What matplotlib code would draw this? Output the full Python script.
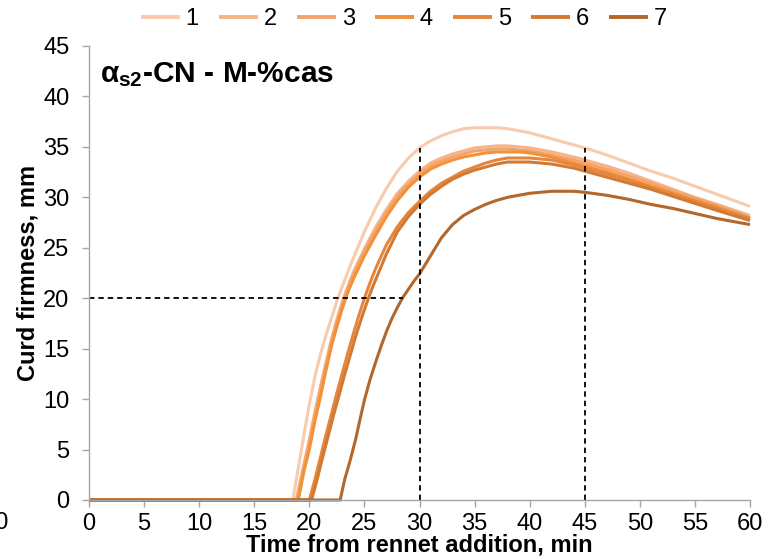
import matplotlib
matplotlib.use("Agg")
import matplotlib.pyplot as plt

plt.rcParams['font.family'] = ['Liberation Sans', 'DejaVu Sans']
plt.rcParams['mathtext.fontset'] = 'custom'
plt.rcParams['mathtext.rm'] = 'Liberation Sans:bold'
plt.rcParams['mathtext.it'] = 'Liberation Sans:bold'
plt.rcParams['mathtext.bf'] = 'Liberation Sans:bold'

labels = ["1", "2", "3", "4", "5", "6", "7"]
colors = ["#F8CBAD", "#F5B48A", "#F4A469", "#F39139", "#E5863C", "#D27A33", "#B4672B"]

t1 = [0, 18.5, 19, 19.5, 20, 20.5, 21, 21.5, 22, 22.5, 23, 24, 25, 26, 27, 28, 29, 30, 31, 32, 33, 34, 35, 36, 37, 38, 39, 40, 42, 44, 45, 47, 49, 51, 53, 55, 57, 60]
y1 = [0, 0, 3.2, 6.4, 9.5, 12.2, 14.4, 16.3, 18.0, 19.7, 21.2, 24.0, 26.6, 28.9, 30.9, 32.6, 33.9, 34.9, 35.6, 36.1, 36.5, 36.8, 36.9, 36.9, 36.9, 36.8, 36.6, 36.4, 35.8, 35.2, 34.9, 34.2, 33.4, 32.6, 31.9, 31.1, 30.3, 29.1]

t2 = [0, 18.8, 19.5, 20, 20.5, 21, 21.5, 22, 22.5, 23, 23.5, 24, 25, 26, 27, 28, 29, 30, 31, 32, 33, 34, 35, 36, 37, 38, 39, 40, 42, 44, 45, 47, 49, 51, 53, 55, 57, 60]
y2 = [0, 0, 3.5, 6.0, 8.7, 11.2, 13.6, 15.9, 17.9, 19.7, 21.2, 22.6, 24.9, 27.0, 28.8, 30.4, 31.6, 32.6, 33.4, 33.9, 34.3, 34.6, 34.9, 35.0, 35.1, 35.1, 35.0, 34.9, 34.5, 34.0, 33.7, 33.1, 32.4, 31.6, 30.8, 30.0, 29.3, 28.2]

t3 = [0, 18.9, 19.5, 20, 20.5, 21, 21.5, 22, 22.5, 23, 23.5, 24, 25, 26, 27, 28, 29, 30, 31, 32, 33, 34, 35, 36, 37, 38, 39, 40, 42, 44, 45, 47, 49, 51, 53, 55, 57, 60]
y3 = [0, 0, 3.2, 5.6, 8.3, 10.8, 13.3, 15.6, 17.6, 19.4, 20.9, 22.3, 24.6, 26.6, 28.5, 30.1, 31.3, 32.3, 33.1, 33.6, 34.0, 34.3, 34.6, 34.7, 34.8, 34.8, 34.7, 34.6, 34.2, 33.7, 33.4, 32.8, 32.1, 31.4, 30.6, 29.9, 29.2, 28.0]

t4 = [0, 19.0, 19.5, 20, 20.5, 21, 21.5, 22, 22.5, 23, 23.5, 24, 25, 26, 27, 28, 29, 30, 31, 32, 33, 34, 35, 36, 37, 38, 39, 40, 42, 44, 45, 47, 49, 51, 53, 55, 57, 60]
y4 = [0, 0, 2.8, 5.0, 7.8, 10.2, 12.8, 15.2, 17.2, 19.0, 20.6, 21.9, 24.2, 26.2, 28.1, 29.7, 31.0, 32.0, 32.8, 33.3, 33.7, 34.0, 34.2, 34.4, 34.5, 34.5, 34.5, 34.4, 34.0, 33.4, 33.1, 32.5, 31.8, 31.1, 30.4, 29.7, 29.0, 27.9]

t5 = [0, 20.0, 20.5, 21, 21.5, 22, 22.5, 23, 23.5, 24, 24.5, 25, 25.5, 26, 27, 28, 29, 30, 31, 32, 33, 34, 35, 36, 37, 38, 39, 40, 42, 44, 45, 47, 49, 51, 53, 55, 57, 60]
y5 = [0, 0, 2.0, 4.2, 6.4, 8.5, 10.6, 12.6, 14.6, 16.5, 18.3, 20.0, 21.5, 22.9, 25.3, 27.1, 28.5, 29.6, 30.6, 31.4, 32.0, 32.6, 33.0, 33.4, 33.7, 33.9, 33.9, 33.9, 33.7, 33.2, 32.9, 32.3, 31.7, 31.0, 30.3, 29.6, 28.9, 27.9]

t6 = [0, 20.2, 20.7, 21.2, 21.7, 22.2, 22.7, 23.2, 23.7, 24.2, 24.7, 25.2, 25.7, 26.2, 27, 28, 29, 30, 31, 32, 33, 34, 35, 36, 37, 38, 39, 40, 42, 44, 45, 47, 49, 51, 53, 55, 57, 60]
y6 = [0, 0, 2.0, 4.2, 6.3, 8.4, 10.4, 12.4, 14.3, 16.2, 17.9, 19.5, 21.0, 22.3, 24.4, 26.6, 28.1, 29.3, 30.3, 31.1, 31.8, 32.3, 32.7, 33.0, 33.3, 33.5, 33.5, 33.5, 33.3, 32.9, 32.6, 32.0, 31.4, 30.8, 30.1, 29.4, 28.7, 27.7]

t7 = [0, 22.8, 23.2, 23.7, 24.2, 24.6, 25.0, 25.5, 26, 26.5, 27, 27.5, 28, 28.5, 29, 29.5, 30, 31, 32, 33, 34, 35, 36, 37, 38, 39, 40, 41, 42, 43, 44, 45, 47, 49, 51, 53, 55, 57, 60]
y7 = [0, 0, 2.0, 3.9, 6.0, 8.0, 9.9, 11.9, 13.6, 15.2, 16.7, 18.0, 19.1, 20.1, 20.9, 21.7, 22.4, 24.2, 26.0, 27.3, 28.2, 28.8, 29.3, 29.7, 30.0, 30.2, 30.4, 30.5, 30.6, 30.6, 30.6, 30.5, 30.2, 29.8, 29.3, 28.9, 28.4, 27.9, 27.3]

times = [t1, t2, t3, t4, t5, t6, t7]
values = [y1, y2, y3, y4, y5, y6, y7]

# reference guide lines
h_ref_y = 20
h_ref_x_end = 28.5
v_ref_x = [30, 45]
v_ref_top = 34.9

title_text = r"$\alpha_{s2}$-CN - M-%cas"
xlabel = "Time from rennet addition, min"
ylabel = "Curd firmness, mm"

fig = plt.figure(figsize=(7.71, 5.59), dpi=100)
ax = fig.add_axes([89/771, 1 - 500/559, (750 - 89)/771, (500 - 46)/559])

for t, y, c, lab in zip(times, values, colors, labels):
    ax.plot(t, y, color=c, lw=2.2, label=lab, clip_on=False, solid_capstyle='butt')

dash = (0, (3, 2.2))
ax.plot([0, h_ref_x_end], [h_ref_y, h_ref_y], color='black', lw=1.3, linestyle=dash)
for vx in v_ref_x:
    ax.plot([vx, vx], [0, v_ref_top], color='black', lw=1.3, linestyle=dash)

ax.set_xlim(0, 60)
ax.set_ylim(0, 45)
ax.set_xticks(range(0, 61, 5))
ax.set_yticks(range(0, 46, 5))
for s in ['top', 'right']:
    ax.spines[s].set_visible(False)
for s in ['left', 'bottom']:
    ax.spines[s].set_color('#A6A6A6')
    ax.spines[s].set_linewidth(1.0)
ax.tick_params(axis='both', colors='#A6A6A6', labelcolor='black', labelsize=17,
               length=5, width=1.0, direction='out')
ax.tick_params(axis='x', pad=4)
ax.tick_params(axis='y', pad=9)

ax.set_xlabel(xlabel, fontsize=17, fontweight='bold', labelpad=-1)
ax.set_ylabel(ylabel, fontsize=17, fontweight='bold', labelpad=3)

ax.text(0.016, 0.937, title_text, transform=ax.transAxes, fontsize=21.5,
        fontweight='bold', va='center', ha='left')

leg = fig.legend(loc='center', bbox_to_anchor=(404/771, 1 - 19/559), ncol=7,
                 frameon=False, fontsize=17, handlelength=1.65, handletextpad=0.25,
                 columnspacing=0.85)
for line in leg.get_lines():
    line.set_linewidth(2.8)

fig.text(9/771, 1 - 523/559, "60", fontsize=17, ha='right', va='center')

fig.savefig("out.png", dpi=100)
